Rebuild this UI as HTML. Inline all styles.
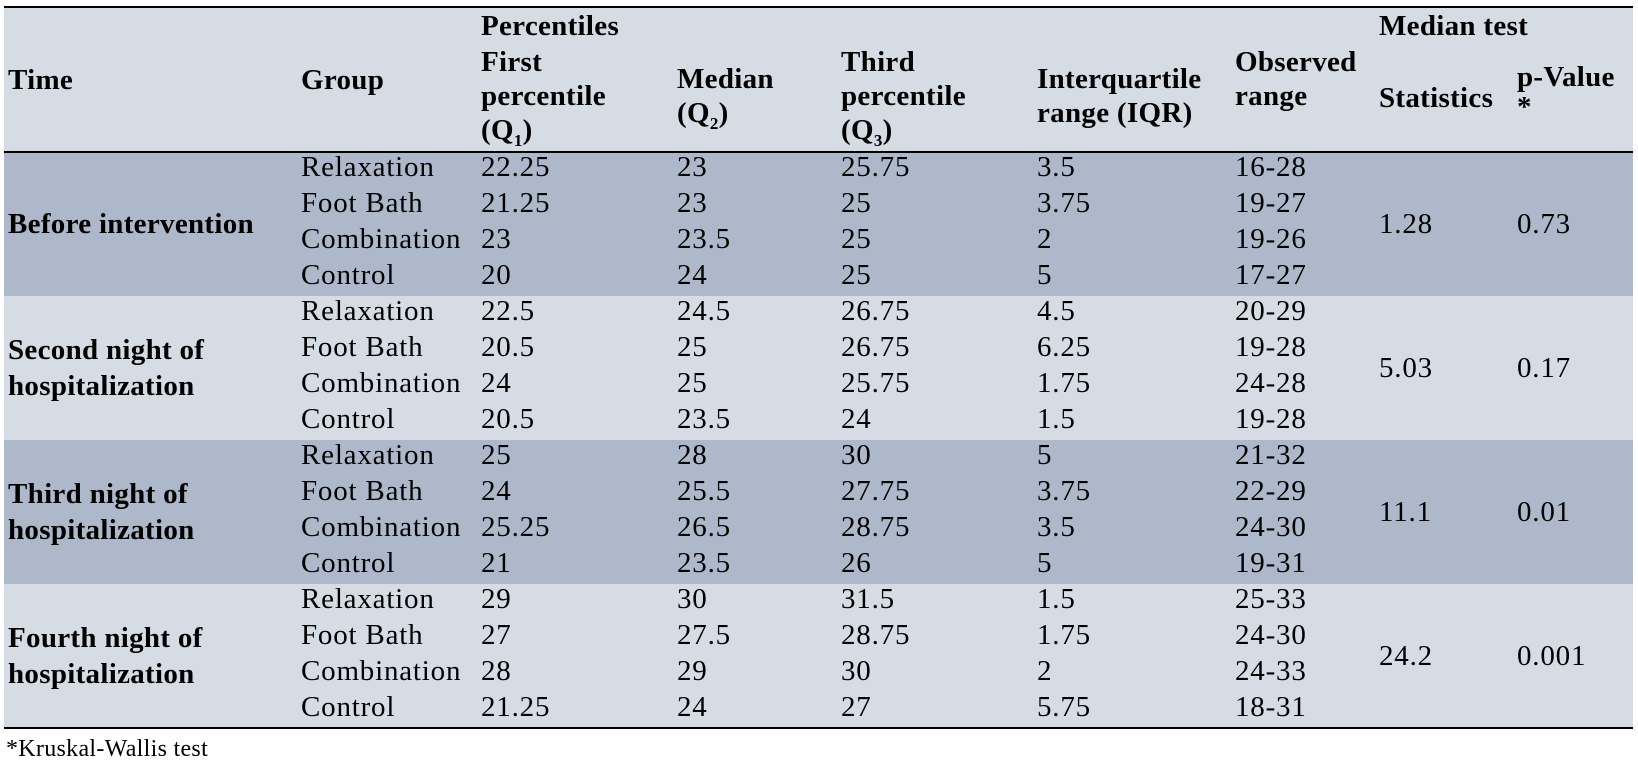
<!DOCTYPE html>
<html><head><meta charset="utf-8"><style>
body{margin:0;width:1638px;height:762px;background:#fff;position:relative;overflow:hidden;font-family:"Liberation Serif",serif;color:#000;}
.t{position:absolute;font-size:29px;letter-spacing:0.8px;line-height:36px;white-space:nowrap;}
.b{font-weight:bold;letter-spacing:0.3px;}
.band{position:absolute;left:4px;width:1629px;}
.line{position:absolute;left:4px;width:1629px;height:2px;background:#000;}
</style></head><body>
<div class="band" style="top:7px;height:145px;background:#d6dce4"></div>
<div class="band" style="top:152px;height:144px;background:#adb9ca"></div>
<div class="band" style="top:296px;height:144px;background:#d6dce4"></div>
<div class="band" style="top:440px;height:144px;background:#adb9ca"></div>
<div class="band" style="top:584px;height:144px;background:#d6dce4"></div>
<div class="line" style="top:6px"></div>
<div class="line" style="top:151px"></div>
<div class="line" style="top:727px"></div>

<div class="t b" style="left:8px;top:62px">Time</div>
<div class="t b" style="left:301px;top:62px">Group</div>
<div class="t b" style="left:481px;top:8px">Percentiles</div>
<div class="t b" style="left:481px;top:45px;line-height:34px">First<br>percentile<br>(Q<sub style="font-size:17px">1</sub>)</div>
<div class="t b" style="left:677px;top:80px;line-height:34px;transform:translateY(-18px)">Median<br>(Q<sub style="font-size:17px">2</sub>)</div>
<div class="t b" style="left:841px;top:45px;line-height:34px">Third<br>percentile<br>(Q<sub style="font-size:17px">3</sub>)</div>
<div class="t b" style="left:1037px;top:62px;line-height:34px">Interquartile<br>range (IQR)</div>
<div class="t b" style="left:1235px;top:45px;line-height:34px">Observed<br>range</div>
<div class="t b" style="left:1379px;top:8px">Median test</div>
<div class="t b" style="left:1379px;top:80px">Statistics</div>
<div class="t b" style="left:1517px;top:62px;line-height:30px">p-Value<br>*</div>

<div id="rows"></div>
<div class="t" style="left:6px;top:731px;font-size:24px;letter-spacing:0.3px">*Kruskal-Wallis test</div>

<script>
const times=[["Before intervention"],["Second night of","hospitalization"],["Third night of","hospitalization"],["Fourth night of","hospitalization"]];
const groups=["Relaxation","Foot Bath","Combination","Control"];
const q1=[["22.25","21.25","23","20"],["22.5","20.5","24","20.5"],["25","24","25.25","21"],["29","27","28","21.25"]];
const med=[["23","23","23.5","24"],["24.5","25","25","23.5"],["28","25.5","26.5","23.5"],["30","27.5","29","24"]];
const q3=[["25.75","25","25","25"],["26.75","26.75","25.75","24"],["30","27.75","28.75","26"],["31.5","28.75","30","27"]];
const iqr=[["3.5","3.75","2","5"],["4.5","6.25","1.75","1.5"],["5","3.75","3.5","5"],["1.5","1.75","2","5.75"]];
const obs=[["16-28","19-27","19-26","17-27"],["20-29","19-28","24-28","19-28"],["21-32","22-29","24-30","19-31"],["25-33","24-30","24-33","18-31"]];
const stats=["1.28","5.03","11.1","24.2"];
const pvals=["0.73","0.17","0.01","0.001"];
const root=document.getElementById('rows');
function add(txt,x,y,name,bold,lh){
  const d=document.createElement('div');
  d.className='t'+(bold?' b':'');
  d.style.left=x+'px';d.style.top=y+'px';
  if(lh)d.style.lineHeight=lh+'px';
  d.innerHTML=txt;
  
  
  root.appendChild(d);
}
const cols=[301,481,677,841,1037,1235];
for(let g=0;g<4;g++){
  const top=152+g*144;
  const tl=times[g];
  add(tl.join('<br>'),8,top+72-tl.length*18,'time-label',true);
  for(let r=0;r<4;r++){
    const y=top+r*36-3;
    const vals=[groups[r],q1[g][r],med[g][r],q3[g][r],iqr[g][r],obs[g][r]];
    vals.forEach((v,i)=>add(v,cols[i],y,'cell',false));
  }
  add(stats[g],1379,top+54,'statistic-value',false);
  add(pvals[g],1517,top+54,'p-value',false);
}
</script>
</body></html>
